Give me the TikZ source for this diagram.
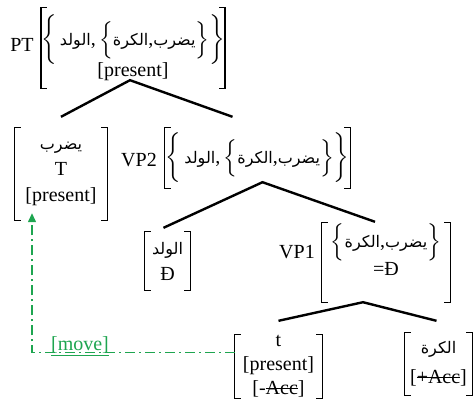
\documentclass[tikz,border=0pt]{standalone}
\usepackage{amsmath}
\usepackage{fontspec}
\setmainfont{Liberation Serif}
\newfontfamily\arabicfont[Script=Arabic,Scale=0.8]{DejaVu Sans}
\TeXXeTstate=1
\usetikzlibrary{arrows.meta,calc}
\definecolor{mvgreen}{RGB}{30,165,80}
\newcommand\ar[1]{{\arabicfont\beginR #1\endR}}
\newcommand\setl[1]{\ensuremath{\nulldelimiterspace=0pt\left\{\vcenter to #1{}\right.}}
\newcommand\setr[1]{\ensuremath{\nulldelimiterspace=0pt\left.\vcenter to #1{}\right\}}}
\newcommand\strk[1]{\setbox0\hbox{#1}\rlap{\rule[0.28em]{\wd0}{0.06em}}\box0}
\newcommand\brk[1]{\draw[brkline] ([xshift=6pt]#1.north west) -- (#1.north west) -- (#1.south west) -- ([xshift=6pt]#1.south west)
  ([xshift=-6pt]#1.north east) -- (#1.north east) -- (#1.south east) -- ([xshift=-6pt]#1.south east);}
\tikzset{
  fm/.style={inner sep=0pt, align=center, font=\fontsize{20}{26}\selectfont},
  cat/.style={inner sep=1pt, font=\fontsize{20}{24}\selectfont},
  brkline/.style={line width=1.3pt},
  branch/.style={line width=2.4pt},
  movearrow/.style={mvgreen, line width=1.3pt, dash pattern=on 10pt off 4pt on 2pt off 4pt, -{Triangle[width=8pt,length=9pt]}},
  movelbl/.style={mvgreen, inner sep=0pt, font=\fontsize{20}{24}\selectfont},
}
\begin{document}
\begin{tikzpicture}[x=1pt,y=-1pt]
  \useasboundingbox (0,0) rectangle (473,402);
  % feature matrices
  \node[fm, minimum width=178pt, minimum height=80pt] (pt) at (133,48)
    {\setl{42pt}\,\ar{الولد},\,\setl{32pt}\ar{الكرة},\ar{يضرب}\setr{32pt}\setr{42pt}\\[-3pt]{}[present]};
  \node[cat] (ptl) at (22,45) {PT};
  \node[fm, minimum width=92pt, minimum height=92pt] (tt) at (61,174) {\ar{يضرب}\\T\\{}[present]};
  \node[fm, minimum width=185pt, minimum height=60pt] (vp2) at (257.5,158)
    {\setl{42pt}\,\ar{الولد},\,\setl{32pt}\ar{الكرة},\ar{يضرب}\setr{32pt}\setr{42pt}};
  \node[cat] (vp2l) at (139,160) {VP2};
  \node[fm, minimum width=45pt, minimum height=58pt] (dd) at (167.5,261) {\ar{الولد}\\Đ};
  \node[fm, minimum width=128pt, minimum height=79pt] (vp1) at (386,262.5)
    {\setl{32pt}\ar{الكرة},\ar{يضرب}\setr{32pt}\\=Đ\\{}};
  \node[cat] (vp1l) at (297,252) {VP1};
  \node[fm, font=\fontsize{20}{24}\selectfont, minimum width=87pt, minimum height=63pt] (tn) at (278.5,366.5)
    {t\\{}[present]\\{}[-\strk{Acc}]};
  \node[fm, minimum width=67pt, minimum height=62pt] (kk) at (438.5,364) {\ar{الكرة}\\[4pt]{}[\strk{+Acc}]};
  \foreach \n in {pt,tt,vp2,dd,vp1,tn,kk} {\brk{\n}}
  % branches
  \coordinate (ptTop) at ([xshift=-3pt,yshift=8pt]pt.south);
  \coordinate (vp2Top) at ([xshift=5pt,yshift=6pt]vp2.south);
  \coordinate (vp1Top) at ([xshift=-23pt]vp1.south);
  \draw[branch] ([yshift=11pt]tt.north) -- (ptTop) -- ([xshift=-25pt,yshift=11pt]vp2.north);
  \draw[branch] ([xshift=-4pt,yshift=4pt]dd.north) -- (vp2Top) -- ([xshift=-11pt,yshift=1pt]vp1.north);
  \draw[branch] ([yshift=14pt]tn.north) -- (vp1Top) -- ([xshift=-2pt,yshift=12pt]kk.north);
  % movement
  \draw[movearrow] ([yshift=14pt]tn.west) -| ([xshift=-29pt,yshift=7pt]tt.south);
  \node[movelbl, anchor=base] (mvl) at (80,350) {\underline{[move]}};
\end{tikzpicture}
\end{document}
